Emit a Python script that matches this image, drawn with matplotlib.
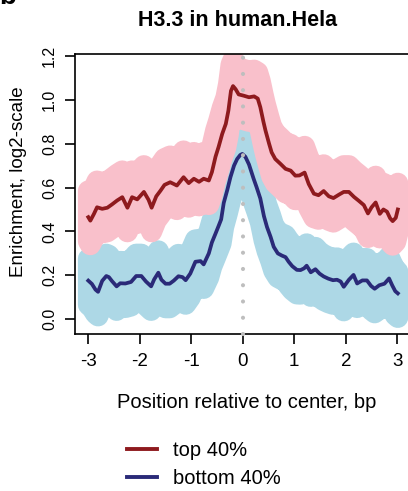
import numpy as np
import matplotlib
matplotlib.use("Agg")
import matplotlib.pyplot as plt
from matplotlib.lines import Line2D

plt.rcParams['font.family'] = ['Liberation Sans', 'DejaVu Sans']

# ---- data ----
top_x = [-3.00, -2.96, -2.89, -2.83, -2.73, -2.63, -2.54, -2.44, -2.34, -2.24,
         -2.15, -2.05, -1.92, -1.83, -1.77, -1.68, -1.60, -1.52, -1.41, -1.33,
         -1.28, -1.15, -1.05, -0.95, -0.85, -0.76, -0.66, -0.60, -0.53, -0.47,
         -0.40, -0.33, -0.28, -0.23, -0.19, -0.14, -0.08, 0.02, 0.12, 0.22,
         0.29, 0.34, 0.40, 0.44, 0.51, 0.56, 0.63, 0.73, 0.83, 0.93,
         1.02, 1.10, 1.20, 1.28, 1.38, 1.47, 1.57, 1.67, 1.76, 1.87,
         1.96, 2.06, 2.16, 2.25, 2.35, 2.43, 2.50, 2.58, 2.66, 2.73,
         2.80, 2.86, 2.91, 2.97, 3.01]
top_y = [0.465, 0.449, 0.480, 0.510, 0.503, 0.508, 0.523, 0.541, 0.556, 0.508,
         0.556, 0.546, 0.580, 0.544, 0.508, 0.560, 0.585, 0.612, 0.624, 0.615,
         0.609, 0.647, 0.620, 0.640, 0.626, 0.640, 0.632, 0.670, 0.740, 0.785,
         0.844, 0.890, 0.950, 1.040, 1.062, 1.048, 1.024, 1.018, 1.011, 1.015,
         1.005, 0.966, 0.900, 0.860, 0.800, 0.760, 0.730, 0.708, 0.685, 0.677,
         0.654, 0.655, 0.668, 0.616, 0.572, 0.565, 0.584, 0.560, 0.552, 0.568,
         0.580, 0.580, 0.557, 0.540, 0.520, 0.482, 0.510, 0.532, 0.480, 0.500,
         0.490, 0.460, 0.447, 0.462, 0.500]

bot_x = [-3.00, -2.93, -2.86, -2.81, -2.73, -2.65, -2.60, -2.54, -2.45, -2.38,
         -2.28, -2.17, -2.07, -1.97, -1.88, -1.78, -1.72, -1.64, -1.58, -1.50,
         -1.42, -1.34, -1.25, -1.17, -1.11, -1.02, -0.92, -0.82, -0.76, -0.66,
         -0.60, -0.53, -0.47, -0.42, -0.37, -0.30, -0.24, -0.17, -0.11, -0.05,
         -0.01, 0.05, 0.12, 0.21, 0.27, 0.34, 0.41, 0.47, 0.54, 0.60,
         0.68, 0.76, 0.83, 0.89, 0.96, 1.05, 1.12, 1.19, 1.24, 1.32,
         1.41, 1.49, 1.57, 1.66, 1.75, 1.83, 1.90, 1.96, 2.06, 2.15,
         2.22, 2.32, 2.41, 2.49, 2.56, 2.65, 2.75, 2.84, 2.90, 2.96, 3.01]
bot_y = [0.176, 0.161, 0.135, 0.125, 0.175, 0.197, 0.192, 0.174, 0.150, 0.164,
         0.163, 0.170, 0.197, 0.197, 0.172, 0.150, 0.182, 0.212, 0.180, 0.162,
         0.162, 0.176, 0.196, 0.192, 0.178, 0.208, 0.262, 0.265, 0.250, 0.300,
         0.350, 0.390, 0.425, 0.455, 0.530, 0.590, 0.647, 0.700, 0.730, 0.748,
         0.753, 0.740, 0.705, 0.640, 0.600, 0.550, 0.470, 0.420, 0.375, 0.330,
         0.300, 0.290, 0.283, 0.262, 0.242, 0.225, 0.224, 0.232, 0.244, 0.214,
         0.228, 0.208, 0.195, 0.185, 0.178, 0.180, 0.172, 0.148, 0.180, 0.202,
         0.163, 0.177, 0.177, 0.152, 0.139, 0.155, 0.162, 0.186, 0.155, 0.128, 0.118]

# band half-widths (upper, lower) around each curve
top_band = (0.12, 0.11)
bot_band = (0.10, 0.11)

x_ticks = [-3, -2, -1, 0, 1, 2, 3]
y_ticks = [0.0, 0.2, 0.4, 0.6, 0.8, 1.0, 1.2]
labels = ['top 40%', 'bottom 40%']

# ---- style ----
RED = '#8E1A1E'
BLUE = '#2A2A78'
PINK = '#F9C0CB'
LBLUE = '#ADD8E6'
W, H = 408, 491

fig = plt.figure(figsize=(W / 100, H / 100), dpi=100)
ax = fig.add_axes([75 / W, 157 / H, (410.6 - 75) / W, (437 - 157) / H])
ax.set_xlim(-3.258, 3.258)
ax.set_ylim(-0.067, 1.208)

def band(x, y, hw, color, z):
    x = np.asarray(x); y = np.asarray(y)
    up = y + hw[0]
    lo = y - hw[1]
    xs = np.concatenate([x, x[::-1]])
    ys = np.concatenate([up, lo[::-1]])
    ax.fill(xs, ys, facecolor=color, edgecolor=color, linewidth=15,
            joinstyle='round', zorder=z)

band(bot_x, bot_y, bot_band, LBLUE, 1)
band(top_x, top_y, top_band, PINK, 2)

ax.plot(top_x, top_y, color=RED, lw=2.7, zorder=3, solid_joinstyle='round')
ax.plot(bot_x, bot_y, color=BLUE, lw=2.7, zorder=3, solid_joinstyle='round')

ylo, yhi = ax.get_ylim()
ax.plot([0, 0], [ylo, yhi], color='#BEBEBE', lw=3.0,
        linestyle=(0, (0.001, 3.9)), dash_capstyle='round', zorder=4,
        clip_on=False)

for s in ['top', 'left', 'bottom', 'right']:
    ax.spines[s].set_linewidth(1.2)
    ax.spines[s].set_color('black')

ax.set_xticks(x_ticks)
ax.set_xticklabels([str(t) for t in x_ticks])
ax.set_yticks(y_ticks)
ax.set_yticklabels([f'{t:.1f}' for t in y_ticks])
ax.tick_params(axis='x', direction='out', length=7, width=1.2, pad=6.5,
               labelsize=13.5)
ax.tick_params(axis='y', direction='out', length=7, width=1.2, pad=6,
               labelsize=11.5, labelrotation=90)
for lab in ax.get_yticklabels():
    lab.set_va('center')

fig.text(237.5 / W, 1 - 21 / H, 'H3.3 in human.Hela', ha='center', va='center',
         fontsize=15.5, fontweight='bold')
fig.text(247 / W, 1 - 402 / H, 'Position relative to center, bp',
         ha='center', va='center', fontsize=14.5)
fig.text(19 / W, 1 - 182 / H, 'Enrichment, log2-scale', rotation=90,
         ha='center', va='center', fontsize=13.5)
fig.text(-0.002, 1 - 4 / H, 'b', ha='left', va='baseline', fontsize=20,
         fontweight='bold')

handles = [Line2D([], [], color=RED, lw=2.8), Line2D([], [], color=BLUE, lw=2.8)]
fig.legend(handles, labels, loc='upper left',
           bbox_to_anchor=(127 / W, 1 - 441 / H), frameon=False,
           fontsize=14.5, handlelength=1.5, handletextpad=0.8,
           labelspacing=0.45, borderpad=0, borderaxespad=0)

fig.savefig('out.png', dpi=100)
